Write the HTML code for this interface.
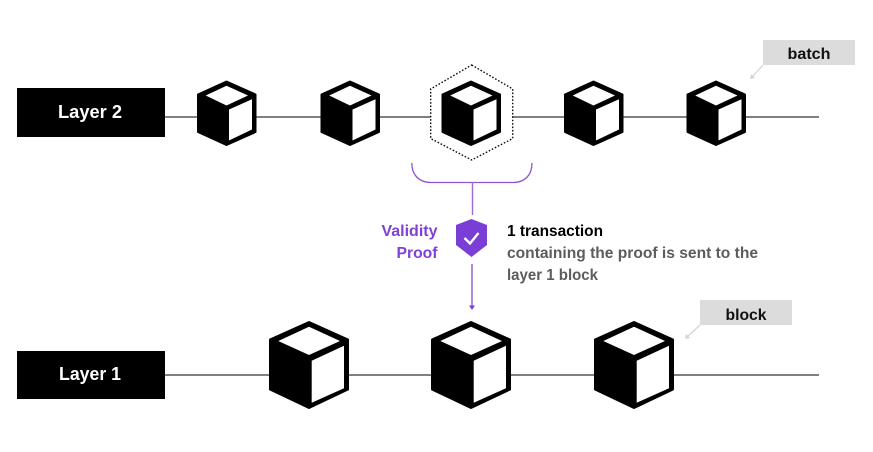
<!DOCTYPE html>
<html><head><meta charset="utf-8"><style>
html,body{margin:0;padding:0;background:#fff;width:873px;height:452px;overflow:hidden}
svg{display:block}
text{font-family:"Liberation Sans",sans-serif;font-weight:700}
</style></head><body>
<svg width="873" height="452" viewBox="0 0 873 452" xmlns="http://www.w3.org/2000/svg">
<defs>
<g id="s">
<polygon points="29.5,1 58.5,14 58.5,51.5 29.5,64.5 1,51.5 1,14" fill="#000" stroke="#000" stroke-width="2" stroke-linejoin="round"/>
<polygon points="29.5,5.3 8.7,15 29.5,25 51,15" fill="#fff"/>
<polygon points="32,29 55,18.7 55,49 32,60" fill="#fff"/>
</g>
<g id="l">
<polygon points="40,1 79,18.5 79,68.5 40,87 1,68.5 1,18.5" fill="#000" stroke="#000" stroke-width="2" stroke-linejoin="round"/>
<polygon points="40,5.7 9.3,20 40,34 71,20" fill="#fff"/>
<polygon points="42.7,39.7 75,24.7 75,67.3 42.7,81.7" fill="#fff"/>
</g>
</defs>
<rect width="873" height="452" fill="#fff"/>

<line x1="165" y1="117" x2="819" y2="117" stroke="#808080" stroke-width="2"/>
<line x1="165" y1="375" x2="819" y2="375" stroke="#808080" stroke-width="2"/>

<rect x="17" y="88" width="148" height="49" fill="#000"/>
<text x="90" y="118" text-anchor="middle" fill="#fff" font-size="18" textLength="64" lengthAdjust="spacingAndGlyphs">Layer 2</text>
<rect x="17" y="351" width="148" height="48" fill="#000"/>
<text x="90" y="380" text-anchor="middle" fill="#fff" font-size="18" textLength="62" lengthAdjust="spacingAndGlyphs">Layer 1</text>

<polygon points="471.7,65 512.7,89 512.7,138.5 471.7,160 430.7,138.5 430.7,89" fill="#fff" stroke="#111" stroke-width="1.4" stroke-dasharray="1.6 1.8"/>

<use href="#s" x="197" y="80.5"/>
<use href="#s" x="320.5" y="80.5"/>
<use href="#s" x="441.5" y="80.5"/>
<use href="#s" x="564" y="80.5"/>
<use href="#s" x="686.5" y="80.5"/>

<use href="#l" x="269" y="321"/>
<use href="#l" x="431" y="321"/>
<use href="#l" x="594" y="321"/>

<path d="M411.8 163 C411.8 175 419 182.5 431 182.5 H513 C525 182.5 532 175 532 163" fill="none" stroke="#8a55d0" stroke-width="1.3"/>
<line x1="472.5" y1="182" x2="472.5" y2="215" stroke="#9a6cd8" stroke-width="1.4"/>
<polygon points="471.5,219 487,225 487,245 471.5,257 456,245 456,225" fill="#7a3ed6"/>
<polyline points="464.5,238 470,243.5 478.5,233" fill="none" stroke="#fff" stroke-width="2.4"/>
<line x1="472" y1="264" x2="472" y2="306" stroke="#7a3ed6" stroke-width="1.2"/>
<polygon points="469,305.5 475,305.5 472,310" fill="#7a3ed6"/>

<text x="437.5" y="236" text-anchor="end" fill="#8040d8" font-size="15.5" textLength="56" lengthAdjust="spacingAndGlyphs">Validity</text>
<text x="437.5" y="258" text-anchor="end" fill="#8040d8" font-size="15.5" textLength="41" lengthAdjust="spacingAndGlyphs">Proof</text>
<text x="507" y="236" fill="#000" font-size="15.5" textLength="96" lengthAdjust="spacingAndGlyphs">1 transaction</text>
<text x="507" y="258" fill="#5c5c5c" font-size="15.5" textLength="251" lengthAdjust="spacingAndGlyphs">containing the proof is sent to the</text>
<text x="507" y="280" fill="#5c5c5c" font-size="15.5" textLength="91" lengthAdjust="spacingAndGlyphs">layer 1 block</text>

<rect x="763" y="40" width="92" height="25" fill="#dcdcdc"/>
<text x="809" y="59" text-anchor="middle" fill="#111" font-size="15.5" textLength="43" lengthAdjust="spacingAndGlyphs">batch</text>
<line x1="763" y1="65" x2="751" y2="78" stroke="#d4d4d4" stroke-width="1.2"/>
<polygon points="750,79 751,74 755,78" fill="#d4d4d4"/>

<rect x="700" y="300" width="92" height="25" fill="#dcdcdc"/>
<text x="746" y="320" text-anchor="middle" fill="#111" font-size="15.5" textLength="41" lengthAdjust="spacingAndGlyphs">block</text>
<line x1="700" y1="325" x2="686" y2="338" stroke="#d4d4d4" stroke-width="1.2"/>
<polygon points="685,339 686,334 690,338" fill="#d4d4d4"/>
</svg>
</body></html>
